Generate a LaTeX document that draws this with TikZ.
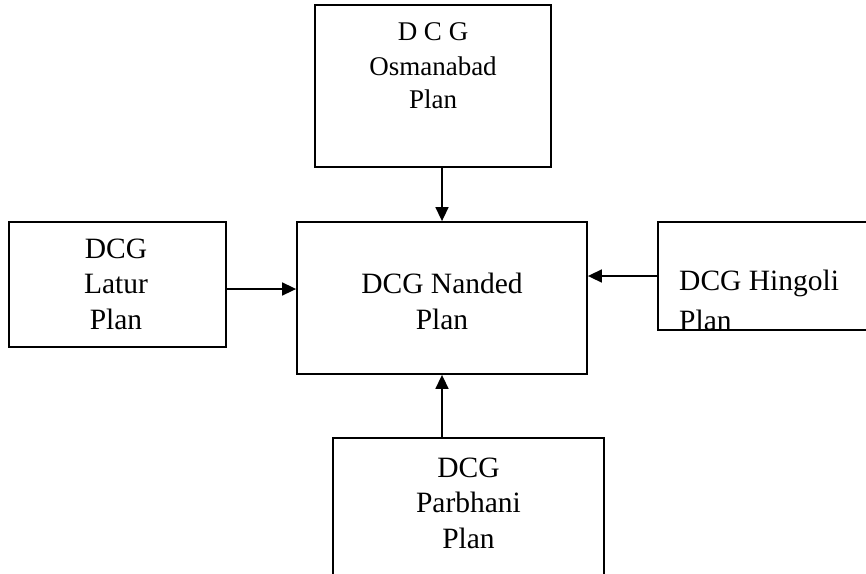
\documentclass[tikz,border=0pt]{standalone}
\usepackage{fontspec}
\setmainfont{Liberation Serif}
\usetikzlibrary{arrows.meta,calc}
\begin{document}
\begin{tikzpicture}[x=1pt,y=-1pt,
  box/.style={draw=black,line width=1.8pt,rectangle,inner sep=0pt},
  lbl/.style={inner sep=0pt,align=center,font=\fontsize{29.5}{35.5}\selectfont},
  arr/.style={draw=black,line width=1.6pt,-{Triangle[length=14pt,width=13pt]}}]
\useasboundingbox (0,0) rectangle (866,573);
% boxes
\node[box,minimum width=236,minimum height=162] (osm) at (433,86) {};
\node[box,minimum width=290,minimum height=152] (nan) at (442,298) {};
\node[box,minimum width=217,minimum height=125] (lat) at (117.5,284.5) {};
\node[box,minimum width=271,minimum height=180] (par) at (468.5,528) {};
% Hingoli box with clipped text
\begin{scope}
  \clip (658,222) rectangle (900,329);
  \node[lbl,align=left,anchor=base west] (hint) at (679,330) {DCG Hingoli\\[4pt]Plan};
\end{scope}
\node[box,minimum width=242,minimum height=108] (hin) at (779,276) {};
% texts
\node[lbl,anchor=base,font=\fontsize{27}{33}\selectfont] (osmt) at (433,108) {D C G\\[2pt]Osmanabad\\Plan};
\node[lbl,anchor=base] (nant) at (442,329) {DCG Nanded\\Plan};
\node[lbl,anchor=base] (latt) at (116,329) {DCG\\Latur\\Plan};
\node[lbl,anchor=base] (part) at (468.5,548) {DCG\\Parbhani\\Plan};
% connectors
\coordinate (latout) at (226,289);
\draw[arr] (latout) -- (latout -| nan.west);
\draw[arr] (nan.north |- osm.south) -- (nan.north);
\draw[arr] (hin.west) -- (hin.west -| nan.east);
\draw[arr] (nan.south |- par.north) -- (nan.south);
\end{tikzpicture}
\end{document}
